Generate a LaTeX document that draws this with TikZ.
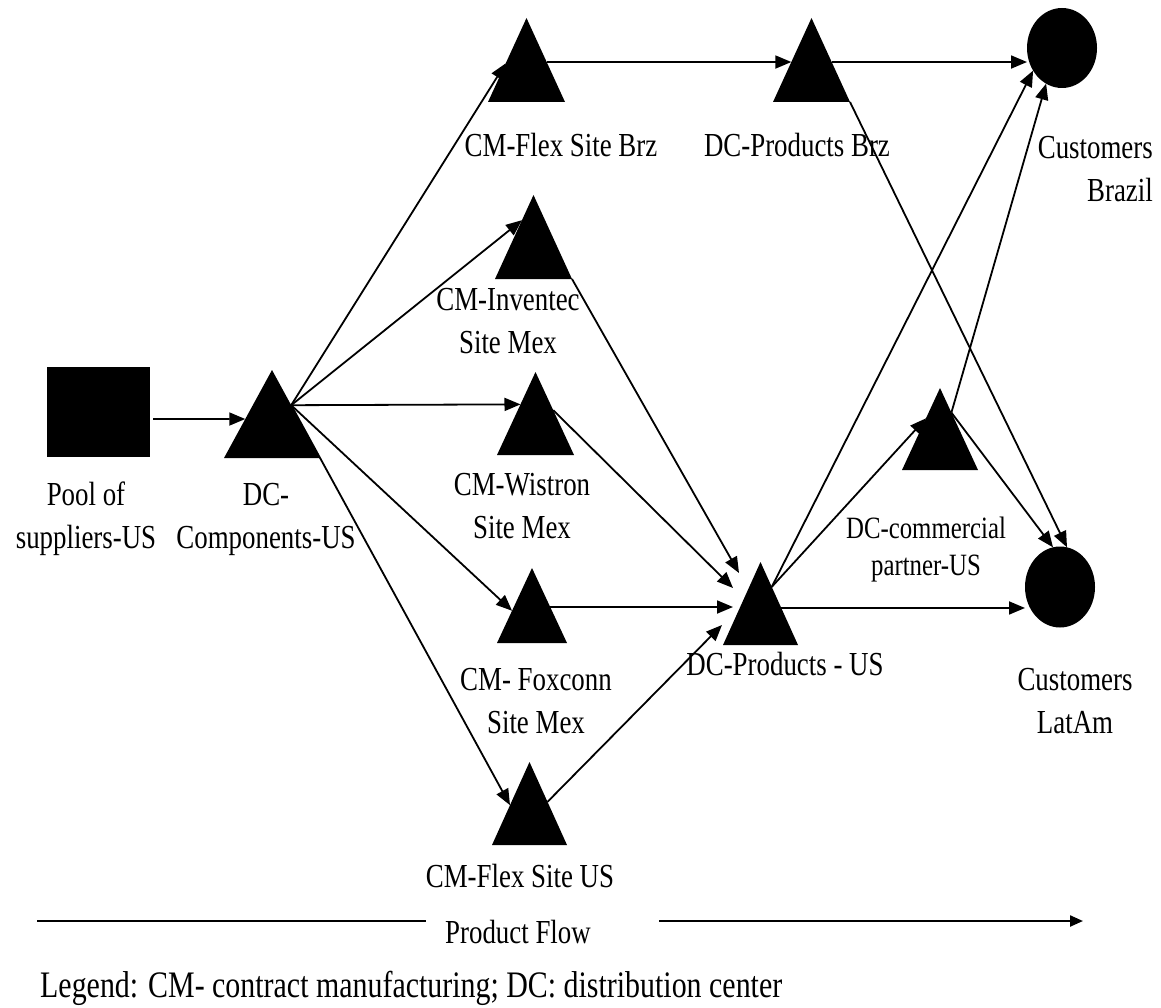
\documentclass[tikz,border=0pt]{standalone}
\usepackage{fontspec}
\setmainfont{Liberation Serif}[FakeStretch=0.8]
\usetikzlibrary{arrows.meta,calc,shapes.geometric}
\begin{document}
\begin{tikzpicture}[x=1pt,y=-1pt,
  lbl/.style={font=\fontsize{33.6}{43}\selectfont, inner sep=0, anchor=base, align=center},
  tri/.style={rectangle, inner sep=0, outer sep=0},
  arr/.style={line width=1.8pt, -{Triangle[length=16pt,width=13pt]}},
]
\useasboundingbox[fill=white] (0,0) rectangle (1161,1008);

% ---- nodes (triangles are filled below from their anchors)
\node[tri, minimum width=96pt, minimum height=88pt] (dccomp)   at (272,414) {};
\node[tri, minimum width=77pt, minimum height=84pt] (flexbrz)  at (526.5,60) {};
\node[tri, minimum width=77pt, minimum height=84pt] (dcbrz)    at (811.5,60) {};
\node[tri, minimum width=77pt, minimum height=84pt] (inventec) at (533.5,237) {};
\node[tri, minimum width=77pt, minimum height=83pt] (wistron)  at (535.5,413.5) {};
\node[tri, minimum width=70pt, minimum height=75pt] (foxconn)  at (532,605.5) {};
\node[tri, minimum width=75pt, minimum height=83pt] (flexus)   at (529.5,803.5) {};
\node[tri, minimum width=75pt, minimum height=83pt] (dcprodus) at (760.5,603.5) {};
\node[tri, minimum width=76pt, minimum height=82pt] (dccomm)   at (940,429) {};
\node[rectangle, fill=black, inner sep=0, outer sep=0, minimum width=103pt, minimum height=90pt] (pool) at (98.5,412) {};
\node[ellipse, fill=black, inner sep=0, outer sep=0, minimum width=70pt, minimum height=80pt] (custbr) at (1062,48) {};
\node[ellipse, fill=black, inner sep=0, outer sep=0, minimum width=70pt, minimum height=81pt] (custla) at (1060,587) {};

\foreach \n in {dccomp,flexbrz,dcbrz,inventec,wistron,foxconn,flexus,dcprodus,dccomm}
  \fill (\n.south west) -- (\n.south east) -- (\n.north) -- cycle;

% ---- labels (multi-line labels are placed by the baseline of their last line)
\node[lbl] (lpool)     at (86,548)  {Pool of\\suppliers-US};
\node[lbl] (ldccomp)   at (266,548) {DC-\\Components-US};
\node[lbl] (lflexbrz)  at (561,157) {CM-Flex Site Brz};
\node[lbl] (ldcbrz)    at (797,157) {DC-Products Brz};
\node[lbl] (linv)      at (508,353) {CM-Inventec\\Site Mex};
\node[lbl] (lwis)      at (522,538) {CM-Wistron\\Site Mex};
\node[lbl] (lfox)      at (536,733) {CM- Foxconn\\Site Mex};
\node[lbl] (lflexus)   at (520,887) {CM-Flex Site US};
\node[lbl] (ldcprodus) at (785,675) {DC-Products - US};
\node[lbl, font=\fontsize{31}{37}\selectfont] (ldccomm) at (926,575) {DC-commercial\\partner-US};
\node[lbl] (lcustla)   at (1075,733) {Customers\\LatAm};
\node[lbl, align=right, anchor=base east] (lcustbr) at (1153,202) {Customers\\Brazil};

% ---- ports
\coordinate (P)  at ($(dccomp.south east)!0.6!(dccomp.north)$);
\coordinate (R)  at ($(dcprodus.south east)!0.7!(dcprodus.north)$);
\coordinate (S)  at ($(dccomm.south east)!0.7!(dccomm.north)$);
\coordinate (q1) at ($(dcbrz.south east)!0.476!(dcbrz.north)$);
\coordinate (q2) at ($(dcprodus.south east)!0.446!(dcprodus.north)$);
\coordinate (q3) at ($(foxconn.south east)!0.48!(foxconn.north)$);

% ---- connectors
\draw[arr] ($(pool.east)+(3,7)$) -- ($(dccomp.south west)!0.443!(dccomp.north)$);
\draw[arr] (P) -- ($(flexbrz.south west)!0.46!(flexbrz.north)$);
\draw[arr] (P) -- ($(inventec.south west)!0.70!(inventec.north)$);
\draw[arr] (P) -- ($(wistron.south west)!0.61!(wistron.north)$);
\draw[arr] (P) -- ($(foxconn.south west)!0.43!(foxconn.north)$);
\draw[arr] (P) -- ($(flexus.south west)!0.48!(flexus.north)$);

\draw[arr] ($(flexbrz.south east)!0.476!(flexbrz.north)$) -- ($(dcbrz.south west)!0.476!(dcbrz.north)$);
\draw[arr] (q1) -- (q1 -| custbr.west);
\draw[arr] (dcbrz.south east) -- (custla.80);

\draw[arr] (inventec.south east) -- ($(dcprodus.center)+(-21.5,-30.5)$);
\draw[arr] ($(wistron.south east)!0.54!(wistron.north)$) -- ($(dcprodus.center)+(-27.5,-15.5)$);
\draw[arr] (q3) -- ($(dcprodus.center)+(-27.5,3.5)$);
\draw[arr] ($(flexus.south east)!0.52!(flexus.north)$) -- ($(dcprodus.center)+(-38.5,21.5)$);

\draw[arr] (R) -- (custbr.218);
\draw[arr] (R) -- ($(dccomm.south west)!0.63!(dccomm.north)$);
\draw[arr] (q2) -- (q2 -| custla.west);

\draw[arr] (S) -- (custbr.246);
\draw[arr] (S) -- (custla.100);

% ---- product flow
\node[lbl] (flowtxt) at (518,943) {Product Flow};
\coordinate (fl1) at (37,921);
\coordinate (fl2) at (426,921);
\coordinate (fl3) at (659,921);
\coordinate (fl4) at (1083,921);
\draw[line width=2.2pt] (fl1) -- (fl2);
\draw[line width=2.2pt, -{Triangle[length=13pt,width=11pt]}] (fl3) -- (fl4);

% ---- legend
\node[font=\fontsize{37.4}{45}\selectfont, inner sep=0, anchor=base west] (legend) at (40,997)
  {Legend: CM- contract manufacturing; DC: distribution center};
\end{tikzpicture}
\end{document}
